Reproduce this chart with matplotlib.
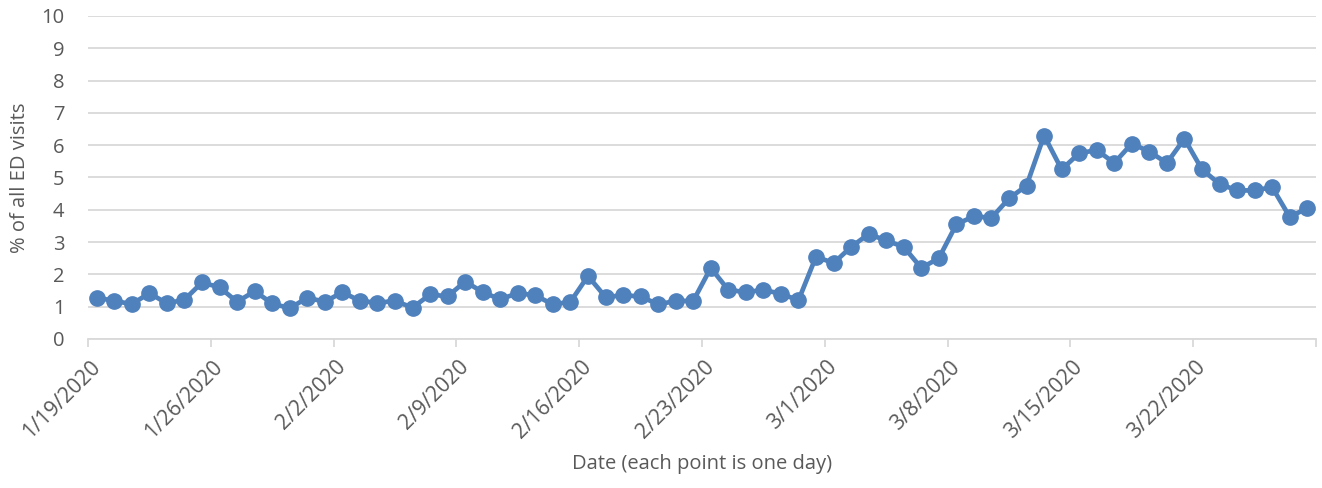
import numpy as np
import matplotlib.pyplot as plt
import matplotlib.transforms as mtransforms

# daily share of ED visits, 1/19/2020 .. 3/28/2020
pct_visits = [
    1.28, 1.18, 1.08, 1.42, 1.10, 1.22, 1.75, 1.60, 1.15, 1.48,
    1.10, 0.95, 1.28, 1.15, 1.45, 1.18, 1.12, 1.18, 0.97, 1.38,
    1.32, 1.78, 1.45, 1.23, 1.42, 1.35, 1.07, 1.15, 1.95, 1.30,
    1.35, 1.32, 1.07, 1.18, 1.18, 2.20, 1.52, 1.45, 1.52, 1.40,
    1.20, 2.55, 2.35, 2.85, 3.25, 3.05, 2.85, 2.20, 2.50, 3.55,
    3.80, 3.75, 4.35, 4.75, 6.30, 5.25, 5.75, 5.85, 5.45, 6.05,
    5.80, 5.45, 6.20, 5.25, 4.80, 4.60, 4.60, 4.70, 3.78, 4.05,
]
tick_labels = ['1/19/2020', '1/26/2020', '2/2/2020', '2/9/2020', '2/16/2020',
               '2/23/2020', '3/1/2020', '3/8/2020', '3/15/2020', '3/22/2020']

plt.rcParams['font.family'] = ['Open Sans', 'DejaVu Sans']
txt = '#595959'
grid_c = '#d9d9d9'

fig = plt.figure(figsize=(13.22, 4.88), dpi=100)
ax = fig.add_axes([88/1322, 1 - 339/488, (1316-88)/1322, (339-16)/488])

n = len(pct_visits)
x = np.arange(n) + 0.5
ax.plot(x, pct_visits, color='#4f81bd', lw=3.4, marker='o', ms=11, zorder=3)

ax.set_xlim(0, n)
ax.set_ylim(0, 10)
ax.set_yticks(range(0, 11))
ax.yaxis.grid(True, color=grid_c, lw=1.3)
ax.set_axisbelow(True)

ticks = list(range(0, n + 1, 7))
ax.set_xticks(ticks)
ax.set_xticklabels([])
# date labels, rotated and nudged like the original
shift = mtransforms.ScaledTranslation(9/100, -25/100, fig.dpi_scale_trans)
trans = ax.get_xaxis_transform() + shift
for t, lab in zip(ticks, tick_labels):
    ax.text(t, 0, lab, transform=trans, rotation=45, rotation_mode='anchor',
            ha='right', va='center', color=txt, fontsize=15.3)

for s in ['top', 'right', 'left']:
    ax.spines[s].set_visible(False)
ax.spines['bottom'].set_color(grid_c)
ax.spines['bottom'].set_linewidth(1.3)
ax.tick_params(axis='x', colors=grid_c, length=6, width=1.3)
ax.tick_params(axis='y', length=0, labelcolor=txt, labelsize=14.5, pad=17)

ax.set_xlabel('Date (each point is one day)', color=txt, fontsize=14.5)
ax.xaxis.set_label_coords(0.5, -(454 - 339) / 323)
ax.set_ylabel('% of all ED visits', color=txt, fontsize=14.5, labelpad=8)

fig.savefig('out.png', dpi=100)
